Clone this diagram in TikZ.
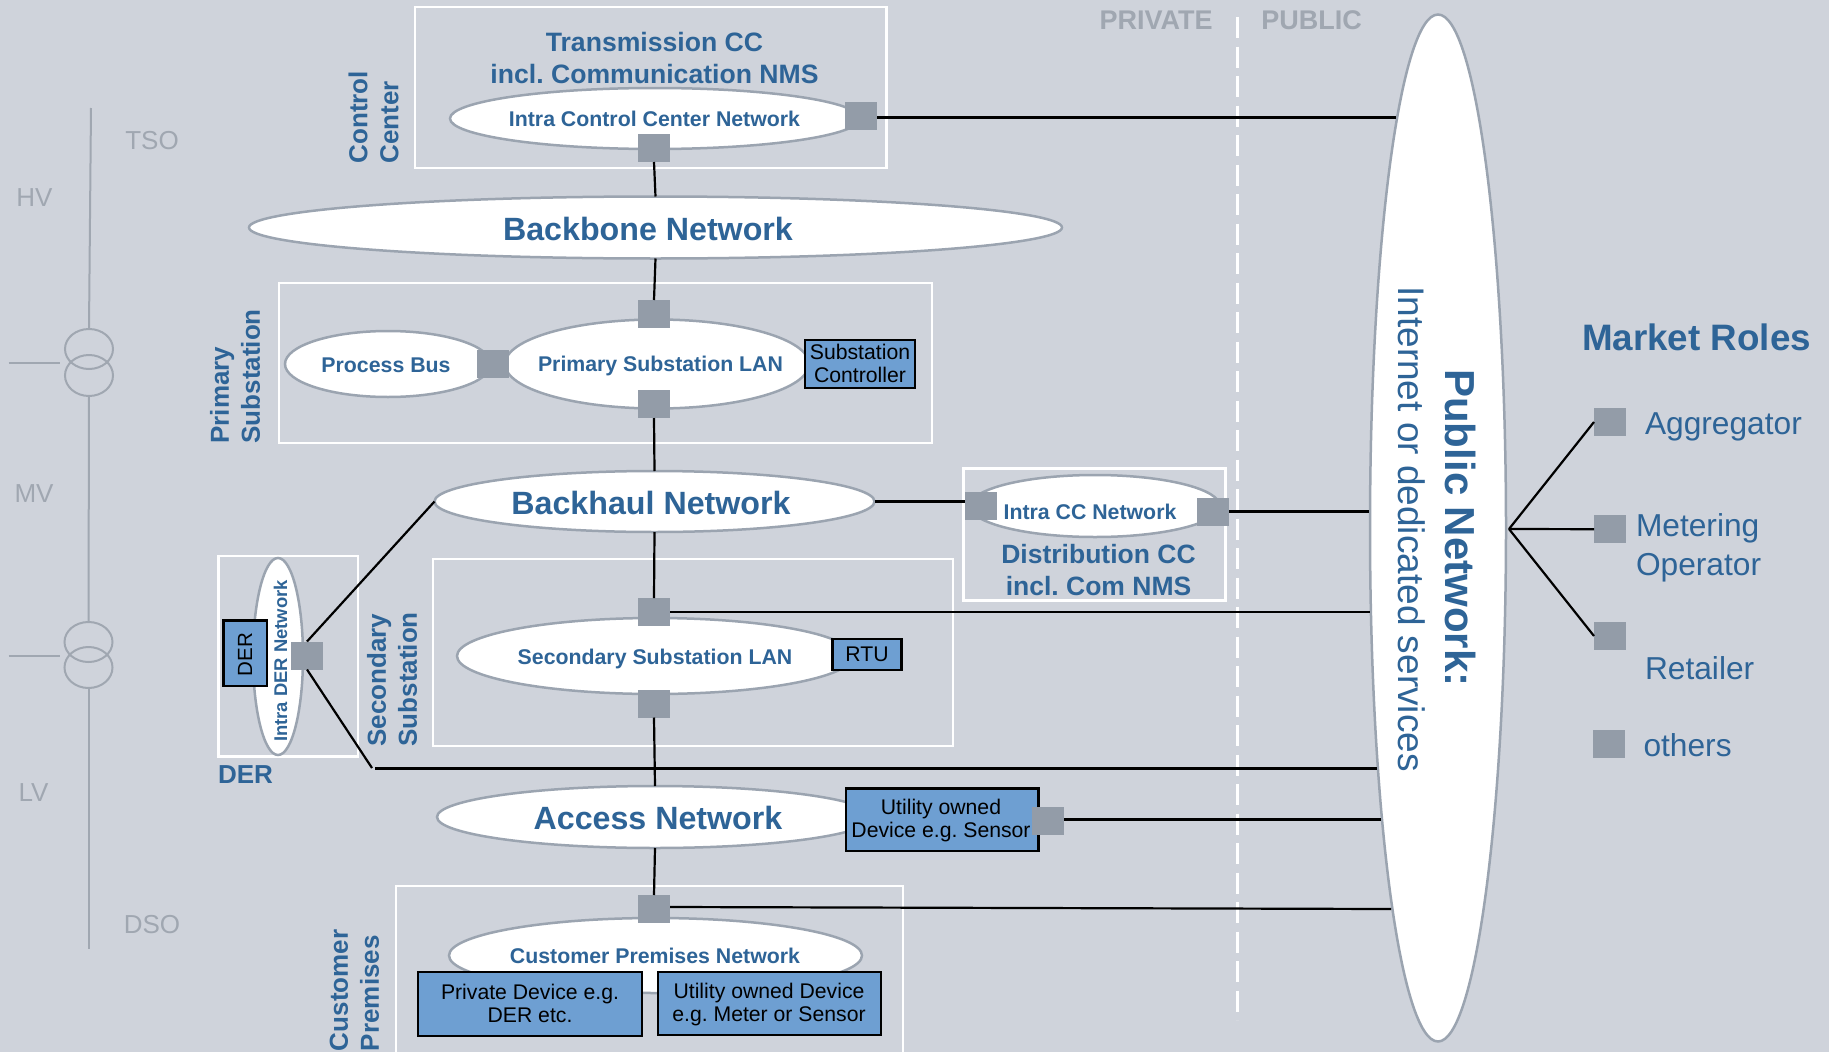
\documentclass[tikz,border=0pt]{standalone}
\usepackage{fontspec}
\setmainfont{Liberation Sans}
\usetikzlibrary{shapes.geometric}
\definecolor{bgc}{HTML}{CFD3DB}
\definecolor{txtblue}{HTML}{2E6497}
\definecolor{portc}{HTML}{939CA8}
\definecolor{boxblue}{HTML}{6E9FD2}
\definecolor{rimc}{HTML}{9BA4B0}
\definecolor{faint}{HTML}{A0A7B1}
\newcommand{\fsz}[2]{\fontsize{#1}{#2}\selectfont}
\frenchspacing
\tikzset{
  x=1pt,y=-1pt,
  every node/.style={inner sep=0pt,outer sep=0pt,align=center},
  zonebox/.style={draw=white,line width=2.5pt,fill=none,rectangle},
  net/.style={ellipse,draw=rimc,fill=white,line width=2.5pt},
  port/.style={rectangle,fill=portc,minimum width=32pt,minimum height=28pt},
  device/.style={rectangle,draw=black,fill=boxblue,line width=2.8pt,text=black},
  link/.style={draw=black,line width=2.2pt},
  grid/.style={draw=faint,line width=2pt},
  netsmall/.style={text=txtblue,font=\fsz{21.3}{26}\bfseries},
  netbig/.style={text=txtblue,font=\fsz{32.2}{38}\bfseries},
  zonelabel/.style={text=txtblue,font=\fsz{26.5}{32}\bfseries},
  zoneside/.style={text=txtblue,font=\fsz{26}{31}\bfseries,rotate=90,anchor=west,align=left},
  devtext/.style={font=\fsz{21.2}{23}},
  faintlabel/.style={text=faint,font=\fsz{26}{30}},
  rolelabel/.style={text=txtblue,font=\fsz{31.7}{39},anchor=west,align=left},
}
\begin{document}
\begin{tikzpicture}
\path[use as bounding box,fill=bgc] (0,0) rectangle (1829,1052);
\clip (0,0) rectangle (1829,1052);

% grid side (left)
\node[draw=faint,line width=2pt,ellipse,minimum width=48pt,minimum height=40pt] (t1a) at (89,349) {};
\node[draw=faint,line width=2pt,ellipse,minimum width=48pt,minimum height=41pt] (t1b) at (89,375.5) {};
\node[draw=faint,line width=2pt,ellipse,minimum width=48pt,minimum height=40pt] (t2a) at (88.5,642) {};
\node[draw=faint,line width=2pt,ellipse,minimum width=48pt,minimum height=41pt] (t2b) at (88.5,667.5) {};
\coordinate (gtop) at (91,108);
\coordinate (gbot) at (88.5,948.6);
\coordinate (gl1) at (8.5,363);
\coordinate (gl1e) at (60,363);
\coordinate (gl2) at (8.5,655.7);
\coordinate (gl2e) at (60,655.7);
\draw[grid] (gtop) -- (t1a.north);
\draw[grid] (t1b.south) -- (t2a.north);
\draw[grid] (t2b.south) -- (gbot);
\draw[grid] (gl1) -- (gl1e);
\draw[grid] (gl2) -- (gl2e);
\node[faintlabel] (tso) at (152,141) {TSO};
\node[faintlabel] (hv) at (34.5,197.5) {HV};
\node[faintlabel] (mv) at (34,493.5) {MV};
\node[faintlabel] (lv) at (33.5,793) {LV};
\node[faintlabel] (dso) at (152,924.5) {DSO};

% private/public divider
\node[text=faint,font=\fsz{27}{30}\bfseries] (priv) at (1156,20) {PRIVATE};
\node[text=faint,font=\fsz{27}{30}\bfseries] (publ) at (1311.5,20) {PUBLIC};
\coordinate (divt) at (1237.5,17);
\coordinate (divb) at (1237.5,1020);
\draw[white,line width=2.5pt,dash pattern=on 21pt off 8.5pt] (divt) -- (divb);

% zone boxes
\node[zonebox,minimum width=471.5pt,minimum height=161pt] (zcc) at (650.5,87.5) {};
\node[zonebox,minimum width=653pt,minimum height=160pt] (zps) at (605.5,363) {};
\node[zonebox,minimum width=139.5pt,minimum height=200.5pt] (zder) at (288,656) {};
\node[zonebox,minimum width=520pt,minimum height=187pt] (zss) at (693,652.5) {};
\node[zonebox,minimum width=507pt,minimum height=190pt] (zcp) at (649.5,981) {};
\node[zonebox,minimum width=262pt,minimum height=132pt] (zdc) at (1094.5,534.5) {};

% networks
\node[net,minimum width=410pt,minimum height=61pt] (iccn) at (655,118.5) {};
\node[net,minimum width=813pt,minimum height=62pt] (bb) at (655.5,227.5) {};
\node[net,minimum width=206pt,minimum height=66pt] (pb) at (388,364) {};
\node[net,minimum width=304pt,minimum height=89pt] (plan) at (657,364) {};
\node[net,minimum width=440pt,minimum height=61pt] (bh) at (654.5,501.5) {};
\node[net,minimum width=250pt,minimum height=62pt] (icc) at (1095,506) {};
\node[net,minimum width=50pt,minimum height=197pt] (ider) at (278,656.5) {};
\node[net,minimum width=396pt,minimum height=76pt] (slan) at (655,656) {};
\node[net,minimum width=436pt,minimum height=62pt] (acc) at (655,817) {};
\node[net,minimum width=413pt,minimum height=75pt] (cpn) at (655.5,955.5) {};
\node[net,minimum width=136pt,minimum height=1027pt] (pub) at (1438,528) {};

% devices
\node[device,minimum width=110pt,minimum height=48pt] (sc) at (860,364) {};
\node[devtext] at (860,363.5) {Substation\\Controller};
\node[device,minimum width=69pt,minimum height=31pt] (rtu) at (867,654.5) {};
\node[devtext] at (867,654) {RTU};
\node[device,minimum width=43.5pt,minimum height=65.5pt] (dbox) at (245.3,653.2) {};
\node[font=\fsz{20.5}{24},rotate=90] at (245,654.5) {DER};
\node[device,minimum width=192.5pt,minimum height=62.5pt] (ubox) at (942.3,819.8) {};
\node[devtext] at (941,820.5) {Utility owned\\Device e.g. Sensor};
\node[device,minimum width=224pt,minimum height=64pt] (pdev) at (530,1004) {};
\node[devtext] at (530,1003.5) {Private Device e.g.\\DER etc.};
\node[device,minimum width=223pt,minimum height=63pt] (udev) at (769.5,1003.5) {};
\node[devtext] at (769,1004.5) {Utility owned Device\\e.g. Meter or Sensor};

% ports
\node[port] (pccr) at (861,116) {};
\node[port] (pccb) at (654,148) {};
\node[port] (ppst) at (654,314) {};
\node[port] (ppsl) at (493,364) {};
\node[port] (ppsb) at (654,404) {};
\node[port] (pdcl) at (981,506) {};
\node[port] (pdcr) at (1213,511.7) {};
\node[port] (psst) at (654,612) {};
\node[port] (pssb) at (654,703.5) {};
\node[port] (pder) at (307,655.5) {};
\node[port] (pacc) at (1048,820.5) {};
\node[port] (pcp) at (654,909) {};
\node[port] (mr1) at (1610,422) {};
\node[port] (mr2) at (1610,529.2) {};
\node[port] (mr3) at (1610,636) {};
\node[port] (mr4) at (1609,744) {};

% network and zone labels
\node[text=txtblue,font=\fsz{26.6}{32}\bfseries] (tcc) at (654.5,57.5) {Transmission CC\\incl. Communication NMS};
\node[netsmall] at (654.5,119) {Intra Control Center Network};
\node[netbig] at (648,229) {Backbone Network};
\node[netsmall] at (386,365) {Process Bus};
\node[netsmall] at (660.5,366) {Primary Substation LAN};
\node[netbig] at (651,503) {Backhaul Network};
\node[netsmall] at (1090,512) {Intra CC Network};
\node[zonelabel] (dcc) at (1098.5,570) {Distribution CC\\incl. Com NMS};
\node[netsmall] at (655,658.5) {Secondary Substation LAN};
\node[netbig] at (658,818) {Access Network};
\node[netsmall] at (655,956) {Customer Premises Network};
\node[text=txtblue,font=\fsz{18.4}{22}\bfseries,rotate=90] at (280.6,661) {Intra DER Network};
\node[zonelabel,font=\fsz{26}{31}\bfseries] (lder) at (245.5,775) {DER};
\node[zoneside] (lcc) at (373.5,163.5) {Control\\Center};
\node[zoneside] (lps) at (235,443.5) {Primary\\Substation};
\node[zoneside] (lss) at (392,746.5) {Secondary\\Substation};
\node[zoneside] (lcp) at (354.5,1051) {Customer\\Premises};
\node[text=txtblue,font=\fsz{42}{50}\bfseries,rotate=-90] (pnet) at (1460,528) {Public Network:};
\node[text=txtblue,font=\fsz{37}{44},rotate=-90] (pserv) at (1412,529) {Internet or dedicated services};

% market roles
\node[text=txtblue,font=\fsz{36.8}{44}\bfseries] (mrt) at (1696.6,337.5) {Market Roles};
\node[rolelabel] (r1) at (1645,427) {Aggregator};
\node[rolelabel] (r2) at (1636,547.5) {Metering\\Operator};
\node[rolelabel] (r3) at (1645,668) {Retailer};
\node[rolelabel] (r4) at (1643.5,745) {others};

% connector ends on the public network
\coordinate (pa) at (1396,117.5);
\coordinate (pb1) at (1369,511.5);
\coordinate (pc) at (1370,612);
\coordinate (pd) at (1377,768);
\coordinate (pe) at (1381,819.5);
\coordinate (pf) at (1391,909);
\coordinate (hub) at (1509,529);
\coordinate (derc) at (372,768);
\coordinate (derd) at (375,768);

% connectors
\draw[link] (pccb.south) -- (bb.north);
\draw[link] (bb.south) -- (ppst.north);
\draw[link] (ppsb.south) -- (bh.north);
\draw[link] (bh.south) -- (psst.north);
\draw[link] (pssb.south) -- (acc.north);
\draw[link] (acc.south) -- (pcp.north);
\draw[link] (pccr.east |- pa) -- (pa);
\draw[link] (bh.east) -- (pdcl.west |- bh.east);
\draw[link] (pdcr.east |- pb1) -- (pb1);
\draw[link] (psst.east) -- (pc);
\draw[link] (pacc.east |- pe) -- (pe);
\draw[link] ([yshift=2pt]pcp.east) -- (pf);
\draw[link] (pder.north) -- (bh.west);
\draw[link] (pder.south) -- (derc);
\draw[link,line width=3pt] (derd) -- (pd);
\draw[link] (hub) -- (mr1.west);
\draw[link] (hub) -- (mr2.west);
\draw[link] (hub) -- (mr3.west);
\end{tikzpicture}
\end{document}
